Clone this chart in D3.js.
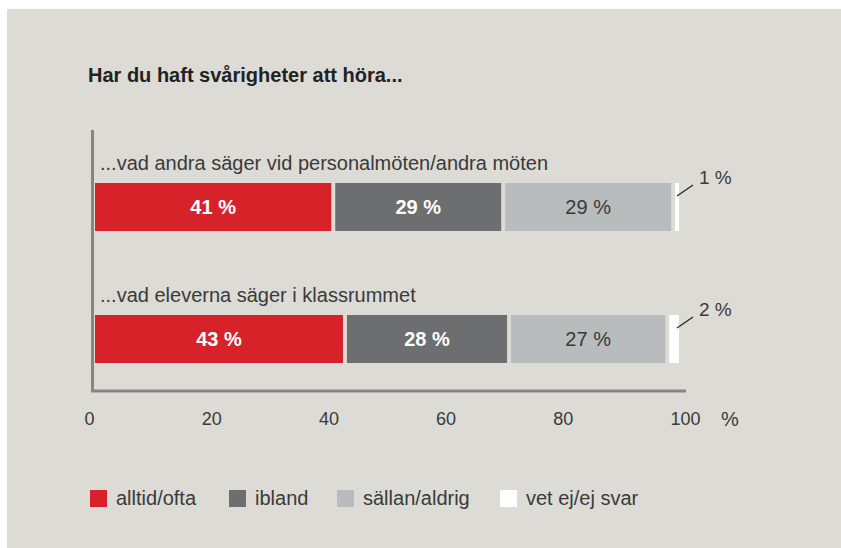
<!DOCTYPE html>
<html>
<head>
<meta charset="utf-8">
<script src="https://cdn.jsdelivr.net/npm/d3@7"></script>
<style>
  html, body { margin: 0; padding: 0; background: #ffffff; }
  svg { display: block; }
  text { font-family: "Liberation Sans", Arial, sans-serif; }
</style>
</head>
<body>
<svg id="chart" width="841" height="548"></svg>
<script>
// Survey question and answer groups
const title = "Har du haft svårigheter att höra...";
const categories = [
  "...vad andra säger vid personalmöten/andra möten",
  "...vad eleverna säger i klassrummet"
];
const seriesNames = ["alltid/ofta", "ibland", "sällan/aldrig", "vet ej/ej svar"];
const seriesColors = ["#d72229", "#6d6e70", "#b9bcbd", "#ffffff"];
const labelColors = ["#ffffff", "#ffffff", "#3a3a3a", "#3a3a3a"];
// values per series, one entry per category (percent)
const alltidOfta = [41, 43];
const ibland = [29, 28];
const sallanAldrig = [29, 27];
const vetEj = [1, 2];
const tickValues = [0, 20, 40, 60, 80, 100];

const seriesValues = [alltidOfta, ibland, sallanAldrig, vetEj];

const svg = d3.select("#chart");
const bg = "#dcdbd6";
const textColor = "#3a3a3a";

// panel
svg.append("rect").attr("x", 7).attr("y", 9).attr("width", 834).attr("height", 539).attr("fill", bg);

// title
svg.append("text").attr("x", 88).attr("y", 81.5)
  .attr("font-size", 20).attr("font-weight", "bold").attr("fill", "#222")
  .text(title);

const x = d3.scaleLinear().domain([0, 100]).range([93, 679]);

// stacked rows
const rows = categories.map((c, i) => {
  let cum = 0;
  return seriesNames.map((s, j) => {
    const v = seriesValues[j][i];
    const seg = { cat: c, series: j, v, x0: cum, x1: cum + v };
    cum += v;
    return seg;
  });
});

const y = d3.scalePoint().domain(categories).range([183, 315]);
const barH = 48;
const gap = 2;

rows.forEach((segs, i) => {
  const by = y(categories[i]);
  // category label above bar
  svg.append("text").attr("x", 100).attr("y", by - 13)
    .attr("font-size", 20).attr("fill", textColor)
    .text(categories[i]);

  const g = svg.append("g");
  g.selectAll("rect").data(segs).join("rect")
    .attr("x", d => x(d.x0) + gap)
    .attr("y", by)
    .attr("width", d => Math.max(0, x(d.x1) - x(d.x0) - gap - (d.series < 3 ? gap : 0)))
    .attr("height", barH)
    .attr("fill", d => seriesColors[d.series]);

  // in-bar value labels for the three wide segments
  g.selectAll("text.val").data(segs.filter(d => d.series < 3)).join("text")
    .attr("class", "val")
    .attr("x", d => (x(d.x0) + x(d.x1)) / 2)
    .attr("y", by + barH / 2 + 7)
    .attr("text-anchor", "middle")
    .attr("font-size", 20)
    .attr("font-weight", d => d.series < 2 ? "bold" : "normal")
    .attr("fill", d => labelColors[d.series])
    .text(d => d.v + " %");

  // small segment: label outside with leader line
  const last = segs[3];
  const lx = x(last.x1);
  svg.append("line")
    .attr("x1", lx - 2).attr("y1", by + 13)
    .attr("x2", lx + 14).attr("y2", by + 2)
    .attr("stroke", "#222").attr("stroke-width", 1.2);
  svg.append("text").attr("x", lx + 20).attr("y", by + 0.5)
    .attr("font-size", 19).attr("fill", textColor)
    .text(last.v + " %");
});

// axis lines
svg.append("line").attr("x1", 92.5).attr("x2", 92.5).attr("y1", 130).attr("y2", 392)
  .attr("stroke", "#858585").attr("stroke-width", 3);
svg.append("line").attr("x1", 91).attr("x2", 686).attr("y1", 391).attr("y2", 391)
  .attr("stroke", "#858585").attr("stroke-width", 3);

// tick labels
const axis = d3.axisBottom(x).tickValues(tickValues).tickSize(0).tickPadding(0);
const ax = svg.append("g").attr("transform", "translate(0,425)").call(axis);
ax.select(".domain").remove();
ax.selectAll("text")
  .attr("font-size", 18).attr("fill", textColor)
  .attr("font-family", "'Liberation Sans', Arial, sans-serif")
  .attr("text-anchor", "start")
  .attr("dx", -9)
  .attr("y", 0)
  .attr("dy", 0);
svg.append("text").attr("x", 721).attr("y", 425.5)
  .attr("font-size", 20).attr("fill", textColor).text("%");

// legend
const legX = [90, 229, 337, 500];
const lg = svg.append("g");
seriesNames.forEach((s, j) => {
  lg.append("rect").attr("x", legX[j]).attr("y", 490).attr("width", 17).attr("height", 17)
    .attr("fill", seriesColors[j]);
  lg.append("text").attr("x", legX[j] + 26).attr("y", 505)
    .attr("font-size", 20).attr("fill", textColor).text(s);
});
</script>
</body>
</html>
